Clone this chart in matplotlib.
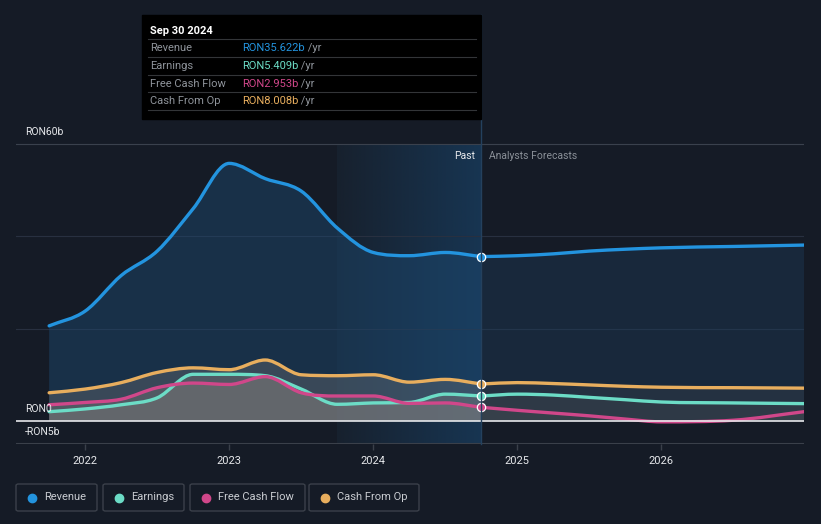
import numpy as np
import matplotlib
matplotlib.use("Agg")
import matplotlib.pyplot as plt
from matplotlib.patches import Rectangle, FancyBboxPatch, PathPatch
from matplotlib.lines import Line2D
from matplotlib.path import Path

plt.rcParams["font.family"] = ["Roboto", "DejaVu Sans"]

# quarterly history (fractional years), then analyst forecasts
past_x = [2021.75, 2022.0, 2022.25, 2022.5, 2022.75, 2023.0, 2023.25, 2023.5,
          2023.75, 2024.0, 2024.25, 2024.5, 2024.75]
fut_x = [2024.75, 2025.0, 2025.25, 2025.5, 2025.75, 2026.0, 2026.5, 2026.99]

revenue_past = [20.6, 23.8, 31.5, 36.8, 46.0, 55.8, 52.5, 49.8, 41.8, 36.5, 35.8, 36.5, 35.6]
earnings_past = [2.0, 2.6, 3.5, 5.0, 10.1, 10.1, 9.8, 6.9, 3.6, 3.9, 4.0, 5.8, 5.4]
fcf_past = [3.5, 4.0, 4.7, 7.2, 8.2, 7.9, 9.6, 6.1, 5.4, 5.4, 3.8, 3.9, 2.95]
cfo_past = [6.1, 6.9, 8.3, 10.5, 11.5, 11.1, 13.2, 10.0, 9.8, 10.0, 8.4, 9.0, 8.0]

revenue_fut = [35.6, 35.8, 36.2, 36.8, 37.2, 37.5, 37.8, 38.1]
earnings_fut = [5.4, 5.8, 5.6, 5.1, 4.6, 4.1, 3.9, 3.75]
fcf_fut = [2.95, 2.3, 1.7, 1.1, 0.4, -0.2, 0.15, 2.0]
cfo_fut = [8.0, 8.3, 8.1, 7.8, 7.5, 7.3, 7.2, 7.1]

names = ["Revenue", "Earnings", "Free Cash Flow", "Cash From Op"]
colors = ["#2394df", "#6cdcc6", "#d0478a", "#e8ae5e"]
tip_values = ["RON35.622b", "RON5.409b", "RON2.953b", "RON8.008b"]
year_ticks = [2022, 2023, 2024, 2025, 2026]

bg = "#151b26"
W, H = 821, 524


def smooth_path(xs, ys, base=None):
    # monotone cubic bezier through the points (like d3 curveMonotoneX)
    x = np.asarray(xs, float)
    y = np.asarray(ys, float)
    h = np.diff(x)
    d = np.diff(y) / h
    m = np.zeros_like(y)
    m[0], m[-1] = d[0], d[-1]
    for i in range(1, len(y) - 1):
        if d[i - 1] * d[i] <= 0:
            m[i] = 0
        else:
            m[i] = (h[i - 1] * d[i] + h[i] * d[i - 1]) / (h[i - 1] + h[i])
            m[i] = np.sign(m[i]) * min(abs(m[i]), 3 * abs(d[i - 1]), 3 * abs(d[i]))
    verts = [(x[0], y[0])]
    codes = [Path.MOVETO]
    for i in range(len(x) - 1):
        verts += [(x[i] + h[i] / 3, y[i] + m[i] * h[i] / 3),
                  (x[i + 1] - h[i] / 3, y[i + 1] - m[i + 1] * h[i] / 3),
                  (x[i + 1], y[i + 1])]
        codes += [Path.CURVE4] * 3
    if base is not None:
        verts += [(x[-1], base), (x[0], base), (x[0], y[0])]
        codes += [Path.LINETO, Path.LINETO, Path.CLOSEPOLY]
    return Path(verts, codes)


fig = plt.figure(figsize=(W / 100, H / 100), dpi=100, facecolor=bg)

y_lo, y_hi = -5, 63
ax_left, ax_right, ax_bottom = 16, 804, 444
px_per_b = 300 / 65
ax_top = ax_bottom - (y_hi - y_lo) * px_per_b
ax = fig.add_axes([ax_left / W, 1 - ax_bottom / H, (ax_right - ax_left) / W,
                   (ax_bottom - ax_top) / H])
ax.set_facecolor(bg)
ax.set_xlim(2021.52, 2026.99)
ax.set_ylim(y_lo, y_hi)
for s in ax.spines.values():
    s.set_visible(False)

# past region highlight (gradient)
grad = np.linspace(0, 1, 256).reshape(1, -1)
cmap = matplotlib.colors.LinearSegmentedColormap.from_list("g", ["#17212e", "#173552"])
ax.imshow(grad, extent=[2023.75, 2024.75, y_lo, 60], aspect="auto", cmap=cmap, zorder=0.5)

for yv in [20, 40]:
    ax.axhline(yv, color="#283040", lw=0.8, zorder=1)
ax.axhline(60, color="#3a414d", lw=0.8, zorder=1)

# fills
ax.add_patch(PathPatch(smooth_path(past_x, revenue_past, 0), fc="#1d4a72", alpha=0.45,
                       lw=0, zorder=2))
ax.add_patch(PathPatch(smooth_path(fut_x, revenue_fut, 0), fc="#1d3d5c", alpha=0.4,
                       lw=0, zorder=2))
for pv, fv in [(cfo_past, cfo_fut), (earnings_past, earnings_fut), (fcf_past, fcf_fut)]:
    ax.add_patch(PathPatch(smooth_path(past_x, pv, 0), fc="#938a84", alpha=0.27, lw=0, zorder=3))
    ax.add_patch(PathPatch(smooth_path(fut_x, fv, 0), fc="#6a6a66", alpha=0.15, lw=0, zorder=3))

series = [(revenue_past, revenue_fut), (earnings_past, earnings_fut),
          (fcf_past, fcf_fut), (cfo_past, cfo_fut)]
for (pv, fv), c in zip(series, colors):
    for xs, ys in [(past_x, pv), (fut_x, fv)]:
        ax.add_patch(PathPatch(smooth_path(xs, ys), fc="none", ec=c, lw=2.4,
                               capstyle="round", zorder=5))
    ax.plot([past_x[-1]], [pv[-1]], "o", ms=6, color=c, mec="white", mew=0.9, zorder=7)

ax.axhline(0, color="#e6e8eb", lw=1.2, zorder=6)
ax.axhline(y_lo, color="#3a404a", lw=1.5, zorder=6)

ax.set_xticks(year_ticks)
ax.set_xticklabels([str(y) for y in year_ticks])
ax.set_yticks([])
ax.tick_params(axis="x", colors="#3a404a", length=4, width=1, pad=5, labelsize=8)
for t in ax.get_xticklabels():
    t.set_color("#e6e8eb")

# y labels
for yv, lab in [(60, "RON60b"), (0, "RON0"), (-5, "-RON5b")]:
    fig.text(25 / W, 1 - (ax_bottom - (yv - y_lo) * px_per_b - 12) / H, lab,
             color="#e6e8eb", fontsize=7.5, va="center", ha="left")

fig.text(475 / W, 1 - 156 / H, "Past", color="#e6e8eb", fontsize=7.5, ha="right", va="center")
fig.text(489 / W, 1 - 156 / H, "Analysts Forecasts", color="#8a9098", fontsize=7.5,
         ha="left", va="center")

# divider line at last reported date
fig.add_artist(Line2D([481 / W, 481 / W], [1 - 15 / H, 1 - 444 / H], color="#24415e", lw=1))

# tooltip
fig.add_artist(Rectangle((142 / W, 1 - 119 / H), (481 - 142) / W, (119 - 15) / H,
                         transform=fig.transFigure, color="#000000", zorder=10))
fig.text(150 / W, 1 - 31 / H, "Sep 30 2024", color="white", fontsize=8,
         fontweight="bold", va="center", zorder=11)
row_y = [48, 66, 84, 101]
renderer = fig.canvas.get_renderer()
for i, (n, v, c) in enumerate(zip(names, tip_values, colors)):
    fig.add_artist(Line2D([148 / W, 476 / W], [1 - (row_y[i] - 9) / H] * 2,
                          color="#333538", lw=0.8, zorder=11))
    fig.text(150 / W, 1 - row_y[i] / H, n, color="#8f949b", fontsize=8, va="center", zorder=11)
    t = fig.text(242 / W, 1 - row_y[i] / H, v, color=c, fontsize=8, va="center", zorder=11)
    x_end = t.get_window_extent(renderer).x1 / W
    fig.text(x_end, 1 - row_y[i] / H, " /yr", color="#8f949b", fontsize=8, va="center",
             zorder=11)
fig.add_artist(Line2D([148 / W, 476 / W], [1 - 110 / H] * 2, color="#333538", lw=0.8, zorder=11))

# legend boxes
boxes = [(16, 97), (103, 184), (190, 305), (309, 419)]
for (x0, x1), n, c in zip(boxes, names, colors):
    fig.add_artist(FancyBboxPatch((x0 / W, 1 - 511 / H), (x1 - x0) / W, 27 / H,
                                  boxstyle="round,pad=0,rounding_size=0.003",
                                  transform=fig.transFigure, fc=bg, ec="#3b404a", lw=1))
    fig.add_artist(Line2D([(x0 + 16) / W], [1 - 497.5 / H], marker="o", ms=6, color=c, lw=0))
    fig.text((x0 + 28) / W, 1 - 497.5 / H, n, color="#c9ccd1", fontsize=8, va="center")

fig.savefig("out.png", dpi=100, facecolor=bg)
